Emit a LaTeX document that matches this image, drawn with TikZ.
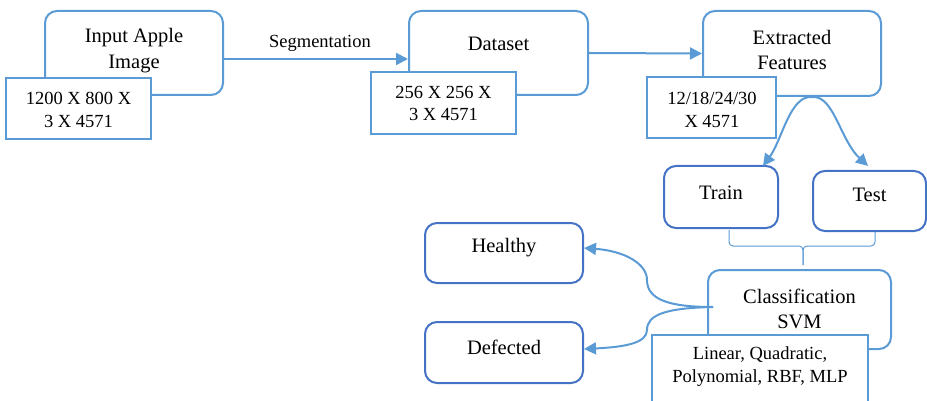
\documentclass[tikz,border=0pt]{standalone}
\usepackage{fontspec}
\setmainfont{Liberation Serif}
\usetikzlibrary{arrows.meta}
\definecolor{lineA}{RGB}{91,155,213}
\definecolor{lineB}{RGB}{68,114,196}
\tikzset{
  rbox/.style={draw=lineA, line width=2pt, rounded corners=12pt, fill=white, inner sep=0pt},
  dbox/.style={draw=lineB, line width=2pt, rounded corners=12pt, fill=white, inner sep=0pt},
  sbox/.style={draw=lineA, line width=2pt, fill=white, inner sep=0pt},
  maintxt/.style={align=center, inner sep=0pt, font=\fontsize{20.5}{25.5}\selectfont},
  smalltxt/.style={align=center, inner sep=0pt, font=\fontsize{18.5}{22.5}\selectfont},
  arr/.style={draw=lineA, line width=2pt, -{Triangle[length=12pt,width=12pt]}},
  bracket/.style={draw=lineA, line width=1pt, rounded corners=4pt}
}
\begin{document}
\begin{tikzpicture}[x=1pt,y=-1pt]
\useasboundingbox (0,0) rectangle (927,401);

% main rounded boxes
\node[rbox, minimum width=178pt, minimum height=84pt] (inp) at (134,53) {};
\node[rbox, minimum width=179pt, minimum height=84pt] (dat) at (498.5,53) {};
\node[rbox, minimum width=178pt, minimum height=85pt] (ext) at (792,53.5) {};
\node[dbox, minimum width=114pt, minimum height=62pt] (trn) at (721,197) {};
\node[dbox, minimum width=113pt, minimum height=60pt] (tst) at (869.5,201) {};
\node[dbox, minimum width=158pt, minimum height=60pt] (hea) at (504,253) {};
\node[dbox, minimum width=158pt, minimum height=61pt] (def) at (504,352.5) {};
\node[rbox, minimum width=183pt, minimum height=79pt] (cls) at (799.5,309.5) {};

% size boxes overlapping the main boxes
\node[sbox, minimum width=145pt, minimum height=61pt] (inpS) at (78.5,108.5) {};
\node[sbox, minimum width=145pt, minimum height=62pt] (datS) at (443.5,103) {};
\node[sbox, minimum width=129pt, minimum height=61pt] (extS) at (711.5,107.5) {};
\node[sbox, minimum width=216pt, minimum height=85pt] (clsS) at (760,377.5) {};

% texts
\node[maintxt] (inpT) at (134,50.5) {Input Apple\\Image};
\node[maintxt] (datT) at (498.5,44) {Dataset};
\node[maintxt] (extT) at (792,50) {Extracted\\Features};
\node[maintxt] (trnT) at (721,193) {Train};
\node[maintxt] (tstT) at (869.5,195) {Test};
\node[maintxt] (heaT) at (504,248) {Healthy};
\node[maintxt] (defT) at (504,347) {Defected};
\node[maintxt] (clsT) at (799.5,309) {Classification\\SVM};
\node[smalltxt] (inpST) at (78.5,110) {1200 X 800 X\\3 X 4571};
\node[smalltxt] (datST) at (443.5,103.5) {256 X 256 X\\3 X 4571};
\node[smalltxt] (extST) at (712,110) {12/18/24/30\\X 4571};
\node[smalltxt] (clsST) at (760,366.5) {Linear, Quadratic,\\Polynomial, RBF, MLP};
\node[smalltxt] (segT) at (320,43) {Segmentation};

% pipeline arrows
\draw[arr] ([yshift=-6pt]inp.east) -- ([yshift=-6pt]dat.west);
\draw[arr] (dat.east) -- (ext.west);

% split into train and test
\coordinate (split) at ([xshift=20pt]ext.south);
\coordinate (trnIn) at ([xshift=42pt,yshift=-1pt]trn.north);
\coordinate (tstIn) at ([xshift=-1.5pt,yshift=4pt]tst.north);
\draw[arr] (split) .. controls (790,95) and (782,140) .. (trnIn);
\draw[arr] (split) .. controls (834,95) and (840,140) .. (tstIn);

% bracket joining train and test into the classifier
\coordinate (brL) at (729,230);
\coordinate (brR) at (875,232);
\coordinate (brM) at (803,265);
\draw[bracket] (brL) -- (729,246) -- (803,246) -- (brM);
\draw[bracket] (brR) -- (875,246) -- (803,246) -- (brM);

% classifier outputs
\coordinate (csrc) at (713,307);
\draw[arr] (csrc) .. controls (670,307) and (647,300) .. (647,280)
  .. controls (647,264) and (625,251) .. ([yshift=5pt]hea.east);
\draw[arr] (csrc) .. controls (665,308) and (647,315) .. (647,330)
  .. controls (647,343) and (625,347) .. ([yshift=3.5pt]def.east);
\end{tikzpicture}
\end{document}
